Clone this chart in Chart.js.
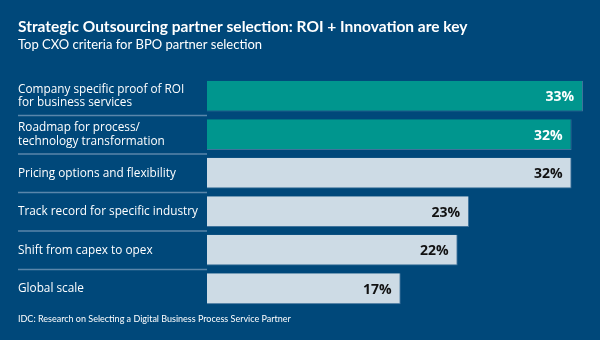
<!DOCTYPE html>
<html>
<head>
<meta charset="utf-8">
<script src="https://cdn.jsdelivr.net/npm/chart.js@4/dist/chart.umd.min.js"></script>
<style>
  html, body { margin: 0; padding: 0; background: #00487a; }
  #wrap { width: 600px; height: 340px; }
</style>
</head>
<body>
<div id="wrap"><canvas id="c"></canvas></div>
<script>
// Survey results: share of CXOs naming each criterion
const criteria = [
  ['Company specific proof of ROI', 'for business services'],
  ['Roadmap for process/', 'technology transformation'],
  'Pricing options and flexibility',
  'Track record for specific industry',
  'Shift from capex to opex',
  'Global scale'
];
const shares = [33, 32, 32, 23, 22, 17];
const highlighted = [true, true, false, false, false, false];

const titleText = 'Strategic Outsourcing partner selection: ROI + Innovation are key';
const subtitleText = 'Top CXO criteria for BPO partner selection';
const sourceText = 'IDC: Research on Selecting a Digital Business Process Service Partner';

const FONT = '"Open Sans", "Noto Sans", sans-serif';
const HEAD_FONT = 'Lato, "Open Sans", sans-serif';
const TEAL = '#00968e';
const LIGHT = '#cddbe5';

// Value labels at the inner end of each bar
const valueLabels = {
  id: 'valueLabels',
  afterDatasetsDraw(chart) {
    const ctx = chart.ctx;
    const meta = chart.getDatasetMeta(0);
    ctx.save();
    ctx.font = 'bold 14px ' + FONT;
    ctx.textAlign = 'right';
    ctx.textBaseline = 'middle';
    meta.data.forEach((bar, i) => {
      ctx.fillStyle = highlighted[i] ? '#ffffff' : '#111111';
      ctx.fillText(shares[i] + '%', bar.x - 9, bar.y + 1);
    });
    ctx.restore();
  }
};

// Thin separators between category rows, under the labels only
const rowSeparators = {
  id: 'rowSeparators',
  beforeDatasetsDraw(chart) {
    const y = chart.scales.y;
    const ctx = chart.ctx;
    ctx.save();
    ctx.strokeStyle = '#5a86ab';
    ctx.lineWidth = 1.5;
    for (let i = 1; i < criteria.length; i++) {
      const py = (y.getPixelForTick(i - 1) + y.getPixelForTick(i)) / 2;
      ctx.beginPath();
      ctx.moveTo(y.left, py);
      ctx.lineTo(chart.chartArea.left, py);
      ctx.stroke();
    }
    ctx.restore();
  }
};

// Source note beneath the plot
const sourceNote = {
  id: 'sourceNote',
  afterDraw(chart) {
    const ctx = chart.ctx;
    ctx.save();
    ctx.font = '9px ' + HEAD_FONT;
    ctx.fillStyle = '#ffffff';
    ctx.textAlign = 'left';
    ctx.textBaseline = 'middle';
    ctx.fillText(sourceText, chart.scales.y.left, chart.chartArea.bottom + 11);
    ctx.restore();
  }
};

new Chart(document.getElementById('c'), {
  type: 'bar',
  data: {
    labels: criteria,
    datasets: [{
      data: shares,
      backgroundColor: highlighted.map(h => h ? TEAL : LIGHT),
      borderColor: '#3f739c',
      borderWidth: { right: 1, bottom: 1 },
      borderSkipped: 'left',
      barPercentage: 0.8,
      categoryPercentage: 1.0
    }]
  },
  options: {
    indexAxis: 'y',
    responsive: true,
    maintainAspectRatio: false,
    animation: false,
    layout: { padding: { left: 18, right: 17, top: 18, bottom: 32 } },
    plugins: {
      legend: { display: false },
      tooltip: { enabled: false },
      title: {
        display: true,
        text: titleText,
        align: 'start',
        color: '#ffffff',
        font: { family: HEAD_FONT, size: 15.5, weight: 'bold', lineHeight: 1.2 },
        padding: { top: 0, bottom: 0 }
      },
      subtitle: {
        display: true,
        text: subtitleText,
        align: 'start',
        color: '#ffffff',
        font: { family: HEAD_FONT, size: 13, lineHeight: 1.25 },
        padding: { top: 0, bottom: 24 }
      }
    },
    scales: {
      x: { display: false, min: 0, max: 33 },
      y: {
        grid: { display: false },
        border: { display: false },
        ticks: {
          color: '#ffffff',
          crossAlign: 'far',
          padding: 0,
          font: { family: FONT, size: 11.8, lineHeight: 1.17 }
        },
        afterFit(scale) { scale.width = 189; }
      }
    }
  },
  plugins: [rowSeparators, valueLabels, sourceNote]
});
</script>
</body>
</html>
